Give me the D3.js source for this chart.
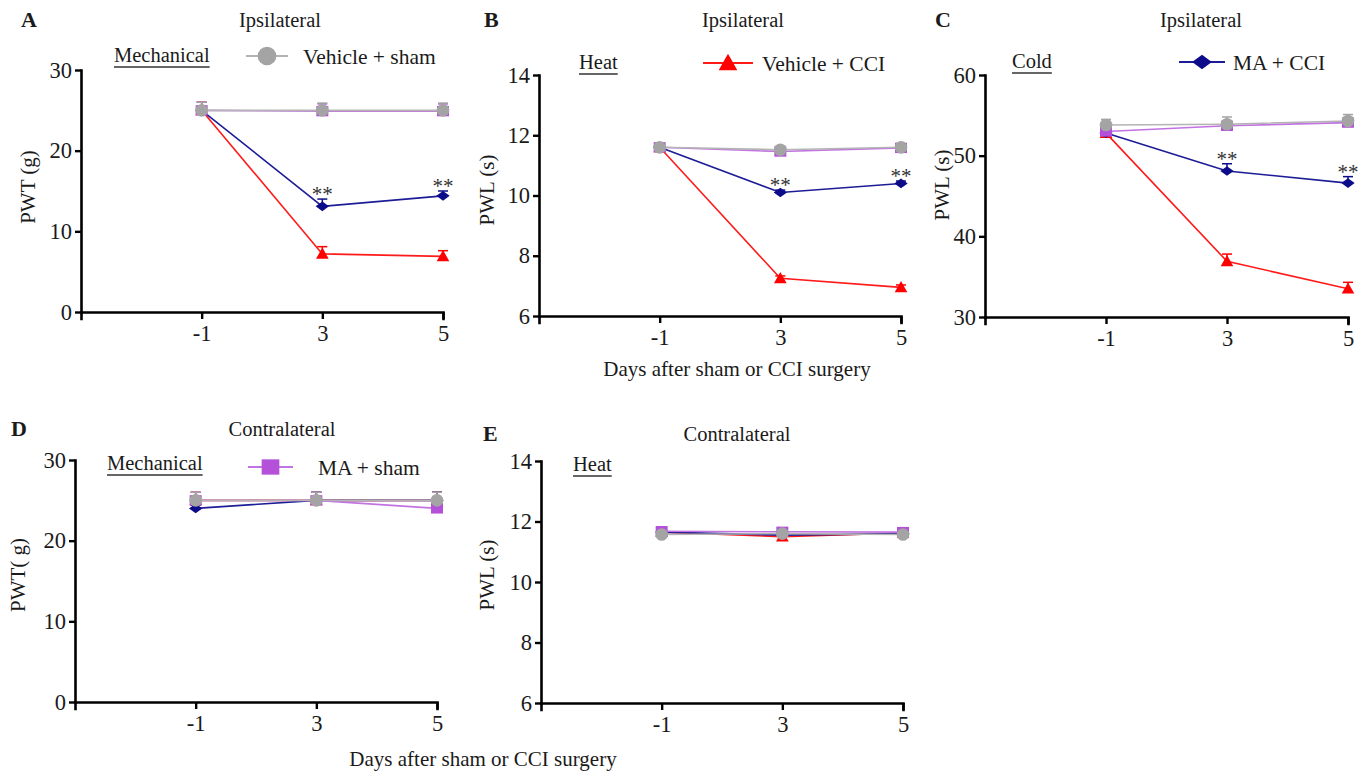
<!DOCTYPE html>
<html lang="en">
<head>
<meta charset="UTF-8">
<title>Pain behaviour</title>
<script src="https://d3js.org/d3.v7.min.js"></script>
<style>
    html, body { margin:0; padding:0; background:#fff; }
    svg text { font-family: "Liberation Serif", "Times New Roman", serif; fill:#1a1a1a; }
</style>
</head>
<body>
<svg id="fig" width="1366" height="775"></svg>
<script>
    // data, series order = groups
    const days = ["-1", "3", "5"];
    const groups = ["Vehicle + sham", "MA + sham", "Vehicle + CCI", "MA + CCI"];

    const aMean = [[25, 25, 25], [25, 24.9, 24.9], [25, 7.2, 6.9], [25, 13.1, 14.4]];
    const aErr  = [[1, 0.9, 0.9], [1, 0.9, 0.9], [1, 0.9, 0.7], [0.5, 0.9, 0.6]];
    const bMean = [[11.6, 11.52, 11.6], [11.6, 11.46, 11.58], [11.6, 7.25, 6.95], [11.6, 10.1, 10.4]];
    const bErr  = [[0.08, 0.08, 0.08], [0.08, 0.08, 0.08], [0.08, 0.08, 0.08], [0.08, 0.08, 0.08]];
    const cMean = [[53.8, 53.9, 54.3], [53.0, 53.7, 54.1], [52.8, 36.9, 33.5], [52.8, 48.1, 46.6]];
    const cErr  = [[0.7, 0.9, 0.8], [0.5, 0.6, 0.6], [0.3, 0.9, 0.8], [0.3, 0.9, 0.8]];
    const dMean = [[25, 25, 25], [25, 25, 24], [25, 25, 25], [24, 25, 25]];
    const dErr  = [[1, 1, 1], [1, 1, 1], [1, 1, 1], [0.4, 1, 1]];
    const eMean = [[11.57, 11.6, 11.57], [11.68, 11.66, 11.65], [11.65, 11.5, 11.62], [11.65, 11.55, 11.6]];
    const eErr  = [[0.05, 0.05, 0.05], [0.05, 0.05, 0.05], [0.05, 0.05, 0.05], [0.05, 0.05, 0.05]];

    const mechTicks = [0, 10, 20, 30];
    const heatTicks = [6, 8, 10, 12, 14];
    const coldTicks = [30, 40, 50, 60];

    const styles = [
        { shape: "circle",   color: "#a4a4a4", line: "#b4b4b4" },
        { shape: "square",   color: "#b451d8", line: "#c273e2" },
        { shape: "triangle", color: "#ff0000", line: "#ff1a1a" },
        { shape: "diamond",  color: "#0c0c8a", line: "#1c1c96" }
    ];
    const drawOrder = [2, 3, 1, 0];

    const svg = d3.select("#fig");

    function marker(g, shape, cx, cy, s, color) {
        let el;
        if (shape === "circle") {
            el = g.append("circle").attr("cx", cx).attr("cy", cy).attr("r", s * 0.55);
        } else if (shape === "square") {
            el = g.append("rect").attr("x", cx - s * 0.52).attr("y", cy - s * 0.45)
                .attr("width", s * 1.04).attr("height", s * 0.9);
        } else if (shape === "triangle") {
            el = g.append("path").attr("d", `M${cx},${cy - s * 0.55}L${cx + s * 0.55},${cy + s * 0.42}L${cx - s * 0.55},${cy + s * 0.42}Z`);
        } else {
            el = g.append("path").attr("d", `M${cx},${cy - s * 0.42}L${cx + s * 0.58},${cy}L${cx},${cy + s * 0.42}L${cx - s * 0.58},${cy}Z`);
        }
        el.attr("fill", color);
    }

    function drawPanel(p) {
        const x = d3.scaleLinear().domain([-1, 2]).range([p.x0, p.x1]);
        const y = d3.scaleLinear().domain([p.ticks[0], p.ticks[p.ticks.length - 1]]).range([p.yb, p.yt]);
        const g = svg.append("g");

        drawOrder.forEach(k => {
            const vals = p.mean[k], errs = p.err[k], st = styles[k];
            g.append("path").datum(vals)
                .attr("d", d3.line().x((d, i) => x(i)).y(d => y(d)))
                .attr("fill", "none").attr("stroke", st.line).attr("stroke-width", 1.6);
            vals.forEach((v, i) => {
                const yc = y(v + errs[i]);
                g.append("line").attr("x1", x(i)).attr("x2", x(i)).attr("y1", y(v)).attr("y2", yc)
                    .attr("stroke", st.color).attr("stroke-width", 1.5);
                g.append("line").attr("x1", x(i) - 5).attr("x2", x(i) + 5).attr("y1", yc).attr("y2", yc)
                    .attr("stroke", st.color).attr("stroke-width", 1.5);
                marker(g, st.shape, x(i), y(v), 11.5, st.color);
            });
        });

        // significance stars over MA + CCI
        if (p.stars) {
            [1, 2].forEach(i => {
                const v = p.mean[3][i] + p.err[3][i];
                g.append("text").attr("x", x(i)).attr("y", y(v) + 2)
                    .attr("text-anchor", "middle").style("font-size", "21px").style("fill", "#333")
                    .text("**");
            });
        }

        const ya = g.append("g").attr("transform", `translate(${p.x0},0)`)
            .call(d3.axisLeft(y).tickValues(p.ticks).tickSize(6).tickSizeOuter(0).tickPadding(3));
        const xa = g.append("g").attr("transform", `translate(0,${p.yb})`)
            .call(d3.axisBottom(x).tickValues([0, 1, 2]).tickFormat(i => days[i]).tickSize(7).tickSizeOuter(7).tickPadding(6));
        [ya, xa].forEach(a => {
            a.select(".domain").attr("stroke", "#000").attr("stroke-width", 2.6).attr("stroke-linecap", "square");
            a.selectAll(".tick line").attr("stroke", "#000").attr("stroke-width", 2.4);
            a.selectAll(".tick text").style("font-size", "22.5px").style("font-family", "Liberation Serif").attr("fill", "#1a1a1a");
        });

        // y label
        g.append("text").attr("transform", `translate(${p.ylx},${p.yly}) rotate(-90)`)
            .attr("text-anchor", "middle").attr("dy", "0.35em").style("font-size", "21px").text(p.ylabel);
        // title + letter
        g.append("text").attr("x", p.tx).attr("y", p.ty).attr("text-anchor", "middle")
            .style("font-size", "20.5px").text(p.title);
        g.append("text").attr("x", p.lx).attr("y", p.ty).style("font-size", "22px")
            .style("font-weight", "bold").text(p.letter);
        // underlined modality
        const m = g.append("text").attr("x", p.mx).attr("y", p.my).style("font-size", "20.5px").text(p.modality);
        const w = m.node().getComputedTextLength();
        g.append("line").attr("x1", p.mx).attr("x2", p.mx + w).attr("y1", p.my + 5).attr("y2", p.my + 5)
            .attr("stroke", "#333").attr("stroke-width", 1.3);

        // legend entry
        if (p.leg !== undefined) {
            const st = styles[p.leg];
            g.append("line").attr("x1", p.legX).attr("x2", p.legX + p.legW).attr("y1", p.legY).attr("y2", p.legY)
                .attr("stroke", st.line).attr("stroke-width", 2);
            marker(g, st.shape, p.legX + p.legW / 2, p.legY, 17, st.color);
            g.append("text").attr("x", p.legTx).attr("y", p.legY).attr("dy", "0.35em")
                .style("font-size", "21.5px").text(groups[p.leg]);
        }
    }

    drawPanel({ mean: aMean, err: aErr, ticks: mechTicks, x0: 81, x1: 443, yt: 70, yb: 312,
        ylabel: "PWT (g)", ylx: 28, yly: 187, title: "Ipsilateral", tx: 280, ty: 27, letter: "A", lx: 21,
        modality: "Mechanical", mx: 114, my: 62, stars: true,
        leg: 0, legX: 246, legW: 42, legY: 56, legTx: 303 });
    drawPanel({ mean: bMean, err: bErr, ticks: heatTicks, x0: 539, x1: 901, yt: 75, yb: 316,
        ylabel: "PWL (s)", ylx: 487, yly: 190, title: "Ipsilateral", tx: 743, ty: 27, letter: "B", lx: 484,
        modality: "Heat", mx: 579, my: 69, stars: true,
        leg: 2, legX: 703, legW: 50, legY: 63, legTx: 762 });
    drawPanel({ mean: cMean, err: cErr, ticks: coldTicks, x0: 985, x1: 1348, yt: 75, yb: 317,
        ylabel: "PWL (s)", ylx: 942, yly: 185, title: "Ipsilateral", tx: 1201, ty: 27, letter: "C", lx: 935,
        modality: "Cold", mx: 1012, my: 68, stars: true,
        leg: 3, legX: 1179, legW: 46, legY: 62, legTx: 1233 });
    drawPanel({ mean: dMean, err: dErr, ticks: mechTicks, x0: 75, x1: 437, yt: 460, yb: 702,
        ylabel: "PWT( g)", ylx: 18, yly: 575, title: "Contralateral", tx: 282, ty: 436, letter: "D", lx: 11,
        modality: "Mechanical", mx: 107, my: 470, stars: false,
        leg: 1, legX: 248, legW: 45, legY: 467, legTx: 318 });
    drawPanel({ mean: eMean, err: eErr, ticks: heatTicks, x0: 541, x1: 903, yt: 461, yb: 703,
        ylabel: "PWL (s)", ylx: 487, yly: 575, title: "Contralateral", tx: 737, ty: 441, letter: "E", lx: 483,
        modality: "Heat", mx: 573, my: 471, stars: false });

    // shared x labels
    svg.append("text").attr("x", 737).attr("y", 376).attr("text-anchor", "middle")
        .style("font-size", "21px").text("Days after sham or CCI surgery");
    svg.append("text").attr("x", 483).attr("y", 766).attr("text-anchor", "middle")
        .style("font-size", "21px").text("Days after sham or CCI surgery");
</script>
</body>
</html>
